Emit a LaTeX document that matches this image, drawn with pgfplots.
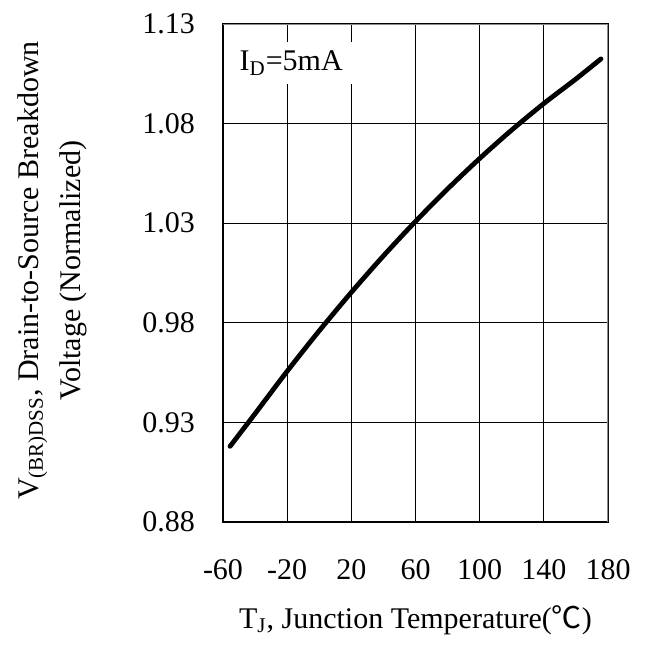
\documentclass[border=0pt]{standalone}
\usepackage{pgfplots}
\pgfplotsset{compat=1.18}
\usepackage{fontspec}
\setmainfont{Liberation Serif}
\newfontfamily\cjk{Noto Sans CJK SC}

\begin{document}
\begin{tikzpicture}
\useasboundingbox (-111.5pt,-61pt) rectangle (214pt,261pt);
\begin{axis}[
  scale only axis,
  width=192.5pt, height=249pt,
  xmin=-60, xmax=180, ymin=0.88, ymax=1.13,
  xtick={-60,-20,...,180},
  ytick={0.88,0.93,...,1.13},
  yticklabels={0.88,0.93,0.98,1.03,1.08,1.13},
  grid=major,
  grid style={black, line width=0.5pt},
  major tick length=0pt,
  axis line style={black, line width=0.8pt},
  font=\fontsize{15}{18}\selectfont,
  /pgf/number format/assume math mode=true,
  xticklabel style={yshift=-15pt},
  yticklabel style={xshift=-10.5pt},
  xlabel={T\textsubscript{J}, Junction Temperature({\cjk ℃})},
  xlabel style={at={(axis description cs:0.5,0)}, anchor=center, yshift=-49pt},
  ylabel={V\textsubscript{(BR)DSS}, Drain-to-Source Breakdown\\Voltage (Normalized)},
  ylabel style={at={(axis description cs:-0.444,0.505)}, anchor=center,
    align=center, font=\fontsize{15}{21}\selectfont},
]
\addplot[black, line width=2.4pt, smooth, line cap=round] coordinates {
  (-55.6,0.918) (-40,0.9344) (-20,0.9557) (0,0.976) (20,0.9953)
  (40,1.0136) (60,1.0309) (80,1.0472) (100,1.0625) (120,1.0768)
  (140,1.0901) (160,1.1024) (175.6,1.1125)
};
\draw[gray!90, line width=1pt] (rel axis cs:0,1) -- (rel axis cs:1,1) -- (rel axis cs:1,0);
\node[fill=white, anchor=west, inner sep=4.5pt] at (axis cs:-55.5,1.1104) {I\textsubscript{D}=5mA};
\end{axis}
\end{tikzpicture}
\end{document}
